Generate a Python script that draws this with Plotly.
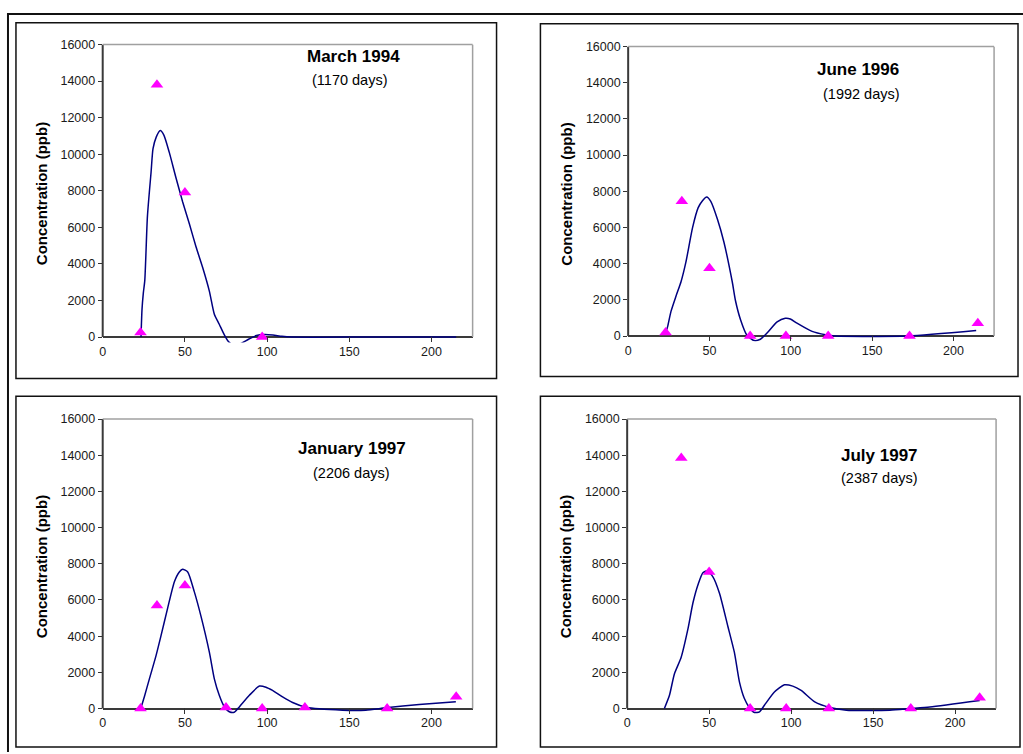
import plotly.graph_objects as go

# Sampling distances (days of travel) at which concentrations were measured
days = [23, 33, 50, 75, 97, 123, 173, 215]

# Measured concentrations (ppb); None where no sample was taken
obs_mar94 = [250, 13800, 7900, None, 0, None, None, None]
obs_jun96 = [200, 7450, 3750, 0, 0, 0, 0, 700]
obs_jan97 = [0, 5700, 6800, 50, 0, 50, 0, 650]
obs_jul97 = [None, 13850, 7550, 0, 0, 0, 0, 600]

# Simulated concentration profiles
sim_mar94_x = [23.3, 23.9, 24.7, 25.6, 27.2, 29.4, 30.6, 32.6, 35.0, 37.2, 40.5, 44.6,
               48.6, 52.7, 56.7, 60.8, 64.9, 67.9, 70.9, 73.9, 76.5, 80.5, 84.5, 89.0,
               93.5, 98.5, 103.5, 109.0, 115.0, 160.0, 215.0]
sim_mar94_y = [0, 1500, 2400, 3100, 6600, 9000, 10300, 10950, 11300, 11050, 10100, 8700,
               7400, 6200, 4950, 3800, 2500, 1250, 700, 130, -250, -500, -330, -110,
               80, 140, 110, 40, 0, 0, 0]

sim_jun96_x = [22.8, 24.3, 26.3, 29.4, 32.5, 35.5, 39.6, 43.0, 45.7, 48.3, 50.8, 54.9,
               58.9, 64.0, 66.0, 69.1, 73.0, 77.5, 81.3, 85.4, 91.6, 96.6, 99.7, 103.8,
               113.1, 121.3, 127.4, 172.0, 214.0]
sim_jun96_y = [70, 530, 1350, 2200, 3000, 4080, 5990, 7080, 7480, 7680, 7440, 6450,
               5180, 3000, 1950, 900, 50, -250, -180, 164, 780, 980, 945, 710,
               255, 70, 0, 0, 300]

sim_jan97_x = [23.3, 25.3, 28.4, 32.4, 35.4, 39.5, 43.6, 46.6, 48.6, 51.7, 55.7, 59.8,
               64.9, 67.9, 70.9, 74.0, 77.0, 80.0, 83.1, 89.2, 95.3, 99.3, 103.3, 109.4,
               115.5, 123.6, 145.9, 160.0, 172.2, 192.5, 214.8]
sim_jan97_y = [50, 640, 1640, 2910, 4000, 5550, 7010, 7550, 7700, 7550, 6460, 5090,
               3100, 1640, 730, 90, -180, -210, 90, 730, 1240, 1180, 1000, 640,
               330, 70, -90, -90, 40, 220, 380]

sim_jul97_x = [22.7, 25.8, 28.8, 32.9, 37.0, 40.1, 43.5, 46.2, 48.8, 52.3, 56.3, 61.4,
               65.4, 68.5, 71.5, 74.6, 77.6, 80.7, 83.7, 89.8, 95.9, 101.0, 106.1, 114.4,
               123.6, 133.7, 160.2, 172.4, 184.6, 215.0]
sim_jul97_y = [0, 730, 1910, 2820, 4370, 5830, 6920, 7500, 7610, 7280, 6370, 4550,
               3100, 1460, 550, 40, -220, -180, 180, 910, 1310, 1240, 1000, 365,
               55, -90, -90, 0, 90, 450]

panel_titles = ["March 1994", "June 1996", "January 1997", "July 1997"]
panel_elapsed = ["(1170 days)", "(1992 days)", "(2206 days)", "(2387 days)"]
y_ticks = [0, 2000, 4000, 6000, 8000, 10000, 12000, 14000, 16000]
y_tick_labels = ["0", "2000", "4000", "6000", "8000", "10000", "12000", "14000", "16000"]
x_ticks = [0, 50, 100, 150, 200]
x_tick_labels = ["0", "50", "100", "150", "200"]
y_axis_title = "Concentration (ppb)"

observed = [obs_mar94, obs_jun96, obs_jan97, obs_jul97]
simulated = [(sim_mar94_x, sim_mar94_y), (sim_jun96_x, sim_jun96_y),
             (sim_jan97_x, sim_jan97_y), (sim_jul97_x, sim_jul97_y)]

# Page geometry in pixels
W, H = 1023, 754
Y_MIN, Y_MAX = -300, 16000
X_MAX = 225
FONT = "Arial, Liberation Sans, sans-serif"

# plot: (left, right, y of 16000, y of 0); box: (x0, x1, y0, y1)
geometry = [
    dict(plot=(100, 471, 38, 334), box=(13, 495, 16, 376), title=(351.5, 50), sub=(348.5, 74)),
    dict(plot=(627, 994, 40, 333), box=(539, 1018, 17, 374), title=(858, 63), sub=(861, 88)),
    dict(plot=(100, 471, 417, 710), box=(13, 495, 394, 749), title=(350.5, 447), sub=(350, 472)),
    dict(plot=(626, 996, 417, 710), box=(539, 1020, 394, 749), title=(879, 454), sub=(879.5, 477)),
]


def px(x):
    return x / W


def py(y):
    return 1 - y / H


fig = go.Figure()
shapes = []
annotations = []

for i, g in enumerate(geometry):
    n = i + 1
    sfx = "" if n == 1 else str(n)
    left, right, top, zero = g["plot"]
    bottom = zero + (0 - Y_MIN) / (Y_MAX - 0) * (zero - top)

    sx, sy = simulated[i]
    fig.add_trace(go.Scatter(
        x=sx, y=sy, mode="lines",
        line=dict(color="#000080", width=1.5, shape="spline", smoothing=0.6),
        xaxis="x" + sfx, yaxis="y" + sfx, showlegend=False, hoverinfo="skip",
    ))
    fig.add_trace(go.Scatter(
        x=days, y=observed[i], mode="markers",
        marker=dict(symbol="triangle-up", size=11, color="#FF00FF", line=dict(width=0)),
        xaxis="x" + sfx, yaxis="y" + sfx, showlegend=False, cliponaxis=False,
    ))

    fig.layout["xaxis" + sfx] = dict(
        domain=[px(left), px(right)], anchor="y" + sfx, range=[0, X_MAX],
        tickvals=x_ticks, ticktext=x_tick_labels,
        ticks="inside", ticklen=5.5, tickwidth=1, tickcolor="#333",
        showline=False, showgrid=False, zeroline=False,
        tickfont=dict(family=FONT, size=12.5, color="#1a1a1a"),
    )
    fig.layout["yaxis" + sfx] = dict(
        domain=[py(bottom), py(top)], anchor="x" + sfx, range=[Y_MIN, Y_MAX],
        tickvals=y_ticks, ticktext=y_tick_labels,
        ticks="outside", ticklen=4, tickwidth=1, tickcolor="#333",
        showline=False, showgrid=False,
        zeroline=True, zerolinecolor="#3a3a3a", zerolinewidth=2,
        tickfont=dict(family=FONT, size=12.5, color="#1a1a1a"),
        title=dict(text=y_axis_title, standoff=9,
                   font=dict(family=FONT, size=15, color="#000", weight="bold")),
    )

    # chart box around each panel
    bx0, bx1, by0, by1 = g["box"]
    shapes.append(dict(type="rect", xref="paper", yref="paper",
                       x0=px(bx0), x1=px(bx1), y0=py(by1), y1=py(by0),
                       line=dict(color="#111", width=1.5), layer="below"))
    # plot-area frame: dark left axis, grey top and right edges
    shapes.append(dict(type="line", xref="x" + sfx + " domain", yref="y" + sfx,
                       x0=0, x1=0, y0=0, y1=Y_MAX, line=dict(color="#3a3a3a", width=2)))
    shapes.append(dict(type="line", xref="x" + sfx + " domain", yref="y" + sfx + " domain",
                       x0=0, x1=1, y0=1, y1=1, line=dict(color="#a0a0a0", width=1.5)))
    shapes.append(dict(type="line", xref="x" + sfx + " domain", yref="y" + sfx,
                       x0=1, x1=1, y0=0, y1=Y_MAX, line=dict(color="#a0a0a0", width=1.5)))

    tx, ty = g["title"]
    annotations.append(dict(text="<b>" + panel_titles[i] + "</b>", xref="paper", yref="paper",
                            x=px(tx), y=py(ty), xanchor="center", yanchor="middle",
                            showarrow=False, font=dict(family=FONT, size=17, color="#000")))
    ux, uy = g["sub"]
    annotations.append(dict(text=panel_elapsed[i], xref="paper", yref="paper",
                            x=px(ux), y=py(uy), xanchor="center", yanchor="middle",
                            showarrow=False, font=dict(family=FONT, size=14.5, color="#000")))

# outer page frame (top and left edges)
shapes.append(dict(type="line", xref="paper", yref="paper",
                   x0=px(4), x1=1, y0=py(7), y1=py(7), line=dict(color="#111", width=2)))
shapes.append(dict(type="line", xref="paper", yref="paper",
                   x0=px(5), x1=px(5), y0=py(7), y1=0, line=dict(color="#111", width=2)))

fig.update_layout(
    width=W, height=H, margin=dict(l=0, r=0, t=0, b=0),
    paper_bgcolor="white", plot_bgcolor="white",
    shapes=shapes, annotations=annotations, showlegend=False,
    font=dict(family=FONT),
)

fig.write_html("out.html", config=dict(displayModeBar=False))
